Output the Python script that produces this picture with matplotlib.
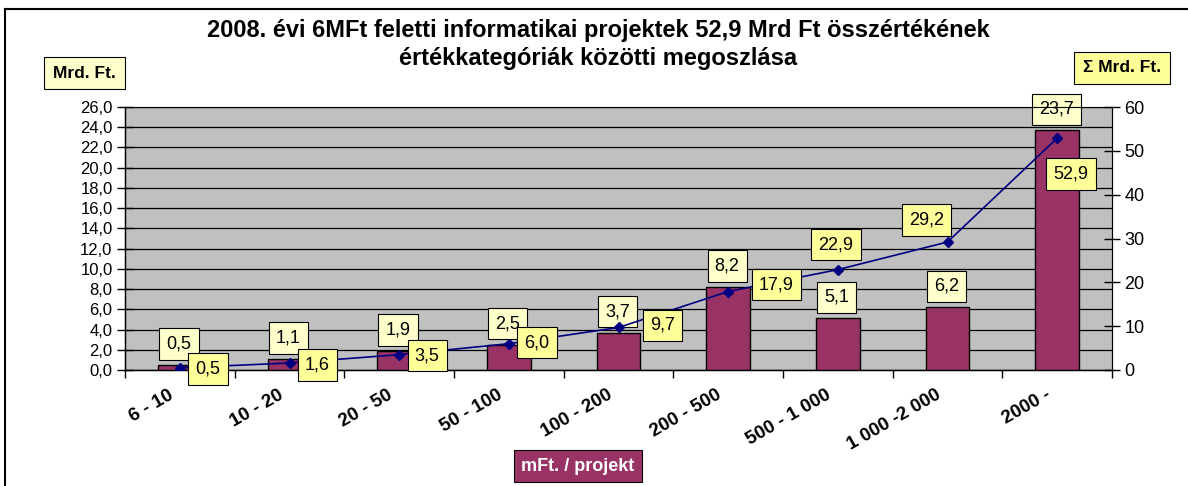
import numpy as np
import matplotlib
matplotlib.use("Agg")
import matplotlib.pyplot as plt
from matplotlib.lines import Line2D
from matplotlib.ticker import FuncFormatter, MultipleLocator
from matplotlib.transforms import ScaledTranslation

plt.rcParams['font.family'] = ['Liberation Sans', 'DejaVu Sans']

# data
categories = ['6 - 10', '10 - 20', '20 - 50', '50 - 100', '100 - 200',
              '200 - 500', '500 - 1 000', '1 000 -2 000', '2000 -']
values = [0.5, 1.1, 1.9, 2.5, 3.7, 8.2, 5.1, 6.2, 23.7]        # Mrd. Ft per category
cumulative = [0.5, 1.6, 3.5, 6.0, 9.7, 17.9, 22.9, 29.2, 52.9]  # running total

# label offsets (pixels) for the cumulative labels, as placed in the original
line_lbl_off = [(28, -1), (28, -2), (28, -1), (28, 1), (44, 2),
                (48, 7), (-2, 25), (-21, 22), (14, -36)]

W, H = 1188, 486
fig = plt.figure(figsize=(W / 100, H / 100), dpi=100)

def px(x, y):
    return x / W, 1 - y / H

def hu(v):
    return ('%.1f' % v).replace('.', ',')

ax = fig.add_axes([125 / W, 1 - 370 / H, (1112 - 125) / W, (370 - 107) / H])
ax.set_facecolor('#C0C0C0')
x = np.arange(len(categories))

ax.bar(x, values, width=0.4, color='#993366', edgecolor='black', linewidth=1.0, zorder=3)
ax.set_xlim(-0.5, len(categories) - 0.5)
ax.set_ylim(0, 26)
ax.yaxis.set_major_locator(MultipleLocator(2))
ax.yaxis.set_major_formatter(FuncFormatter(lambda v, p: hu(v)))
ax.grid(axis='y', color='black', linewidth=0.9, zorder=1)
ax.set_axisbelow(True)
ax.tick_params(axis='y', direction='inout', length=12, width=1, labelsize=12, pad=3)

ax.set_xticks(x)
ax.set_xticklabels(categories, fontweight='bold', fontsize=13.5)
ax.set_xticks(np.arange(len(categories) + 1) - 0.5, minor=True)
ax.tick_params(axis='x', which='major', length=0, pad=12)
ax.tick_params(axis='x', which='minor', direction='out', length=6, width=1)
plt.setp(ax.get_xticklabels(), rotation=30, ha='right', va='top', rotation_mode='anchor')
shift = ScaledTranslation(-12 / 100, 0, fig.dpi_scale_trans)
for lbl in ax.get_xticklabels():
    lbl.set_transform(lbl.get_transform() + shift)

ax.spines['top'].set_color('#808080')
ax.spines['left'].set_linewidth(1)
ax.spines['bottom'].set_linewidth(1)

for xi, v in zip(x, values):
    ax.annotate(hu(v), (xi, v), xytext=(-1, 21),
                textcoords='offset pixels', ha='center', va='center', fontsize=13,
                bbox=dict(boxstyle='square,pad=0.4', fc='#FFFFCC', ec='black', lw=0.8),
                zorder=5, annotation_clip=False)

ax2 = ax.twinx()
ax2.set_ylim(0, 60)
ax2.yaxis.set_major_locator(MultipleLocator(10))
ax2.tick_params(axis='y', direction='inout', length=12, width=1, labelsize=13, pad=3)
ax2.plot(x, cumulative, color='#000080', linewidth=1.2, marker='D', markersize=5, zorder=4)
for xi, v, off in zip(x, cumulative, line_lbl_off):
    ax2.annotate(hu(v), (xi, v), xytext=off,
                 textcoords='offset pixels', ha='center', va='center', fontsize=13,
                 bbox=dict(boxstyle='square,pad=0.4', fc='#FFFF99', ec='black', lw=0.8),
                 zorder=6, annotation_clip=False)

# title
fig.text(*px(598, 31), '2008. évi 6MFt feletti informatikai projektek 52,9 Mrd Ft összértékének',
         ha='center', va='center', fontsize=17, fontweight='bold')
fig.text(*px(598, 58), 'értékkategóriák közötti megoszlása',
         ha='center', va='center', fontsize=17, fontweight='bold')

# axis captions
fig.text(*px(84.5, 73), 'Mrd. Ft.', ha='center', va='center', fontsize=12.5, fontweight='bold',
         bbox=dict(boxstyle='square,pad=0.5', fc='#FFFFCC', ec='black', lw=0.8))
fig.text(*px(1122, 68), 'Σ Mrd. Ft.', ha='center', va='center', fontsize=12.5, fontweight='bold',
         bbox=dict(boxstyle='square,pad=0.5', fc='#FFFF99', ec='black', lw=0.8))
fig.text(*px(578, 466), 'mFt. / projekt', ha='center', va='center', fontsize=13,
         fontweight='bold', color='white',
         bbox=dict(boxstyle='square,pad=0.4', fc='#993366', ec='black', lw=0.8))

# outer chart border (left and top visible)
fig.add_artist(Line2D([5 / W, 5 / W], [0, 1 - 9 / H], color='black', lw=1.5,
                      transform=fig.transFigure))
fig.add_artist(Line2D([5 / W, 1], [1 - 9 / H, 1 - 9 / H], color='black', lw=1.5,
                      transform=fig.transFigure))

fig.savefig('out.png', dpi=100)
